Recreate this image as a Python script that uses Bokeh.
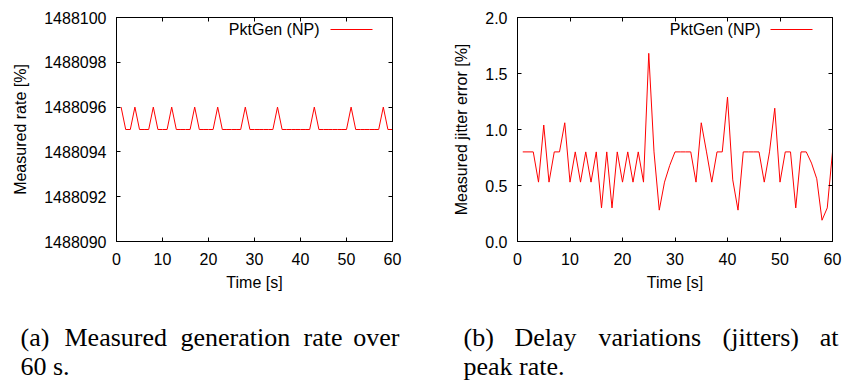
from bokeh.plotting import figure
from bokeh.models import (LinearAxis, Range1d, FixedTicker, PrintfTickFormatter,
                          Label, Arrow, ColumnDataSource)
from bokeh.layouts import row, column
from bokeh.embed import file_html
from bokeh.resources import INLINE

# ---------------- data ----------------
time_s = list(range(1, 61))
rate_values = [
    1488096, 1488095, 1488095, 1488096, 1488095, 1488095, 1488095, 1488096, 1488095, 1488095,
    1488095, 1488096, 1488095, 1488095, 1488095, 1488095, 1488096, 1488095, 1488095, 1488095,
    1488095, 1488096, 1488095, 1488095, 1488095, 1488095, 1488095, 1488096, 1488095, 1488095,
    1488095, 1488095, 1488095, 1488095, 1488096, 1488095, 1488095, 1488095, 1488095, 1488095,
    1488095, 1488095, 1488096, 1488095, 1488095, 1488095, 1488095, 1488095, 1488095, 1488095,
    1488096, 1488095, 1488095, 1488095, 1488095, 1488095, 1488095, 1488096, 1488095, 1488095,
]
jitter_values = [
    0.80, 0.80, 0.80, 0.53, 1.04, 0.53, 0.80, 0.80, 1.06, 0.53,
    0.80, 0.53, 0.80, 0.53, 0.80, 0.30, 0.80, 0.30, 0.80, 0.53,
    0.80, 0.53, 0.80, 0.53, 1.68, 0.80, 0.28, 0.53, 0.68, 0.80,
    0.80, 0.80, 0.80, 0.53, 1.06, 0.80, 0.53, 0.80, 0.80, 1.29,
    0.55, 0.28, 0.80, 0.80, 0.80, 0.80, 0.53, 0.80, 1.19, 0.53,
    0.80, 0.80, 0.30, 0.80, 0.80, 0.70, 0.56, 0.19, 0.30, 0.80,
]
x_ticks = [0, 10, 20, 30, 40, 50, 60]
rate_ticks = [1488090, 1488092, 1488094, 1488096, 1488098, 1488100]
jitter_ticks = [0.0, 0.5, 1.0, 1.5, 2.0]
series_name = "PktGen (NP)"
x_label = "Time [s]"
rate_label = "Measured rate [%]"
jitter_label = "Measured jitter error [%]"
caption_a_line1 = ["(a)", "Measured", "generation", "rate", "over"]
caption_a_line2 = "60 s."
caption_b_line1 = ["(b)", "Delay", "variations", "(jitters)", "at"]
caption_b_line2 = "peak rate."

# ---------------- styling / layout ----------------
SANS = "Liberation Sans"
SERIF = "Liberation Serif"
FS = "16px"
CAP_FS = "26px"
RED = "#ff0000"
PLOT_H = 300


def make_panel(width, border_left, border_right, y_range, y_ticks, y_fmt, y_label, values):
    p = figure(width=width, height=PLOT_H, x_range=Range1d(0, 60), y_range=y_range,
               output_backend="svg", toolbar_location=None,
               min_border_left=border_left, min_border_right=border_right,
               min_border_top=17, min_border_bottom=PLOT_H - 241,
               background_fill_color="white", border_fill_color="white")
    p.grid.visible = False
    p.outline_line_color = "black"
    p.outline_line_width = 1

    src = ColumnDataSource(dict(t=time_s, v=values))
    p.line("t", "v", source=src, line_color=RED, line_width=1)

    for ax in (p.xaxis[0], p.yaxis[0]):
        ax.major_tick_in = 4
        ax.major_tick_out = 0
        ax.minor_tick_line_color = None
        ax.axis_line_color = "black"
        ax.major_tick_line_color = "black"
        ax.major_label_text_font = SANS
        ax.major_label_text_font_size = FS
        ax.major_label_text_color = "black"
        ax.axis_label_text_font = SANS
        ax.axis_label_text_font_size = FS
        ax.axis_label_text_font_style = "normal"
        ax.axis_label_text_color = "black"

    p.xaxis[0].ticker = FixedTicker(ticks=x_ticks)
    p.xaxis[0].axis_label = x_label
    p.xaxis[0].major_label_standoff = 11
    p.xaxis[0].axis_label_standoff = 6

    p.yaxis[0].ticker = FixedTicker(ticks=y_ticks)
    p.yaxis[0].formatter = PrintfTickFormatter(format=y_fmt)
    p.yaxis[0].axis_label = y_label
    p.yaxis[0].major_label_standoff = 10
    p.yaxis[0].axis_label_standoff = 12

    # mirrored ticks (gnuplot style), no labels
    top = LinearAxis(ticker=FixedTicker(ticks=x_ticks), major_tick_in=4, major_tick_out=0,
                     minor_tick_line_color=None, major_label_text_color=None,
                     major_label_text_font_size="1px",
                     major_label_standoff=0, axis_line_color="black")
    right = LinearAxis(ticker=FixedTicker(ticks=y_ticks), major_tick_in=4, major_tick_out=0,
                       minor_tick_line_color=None, major_label_text_color=None,
                       major_label_text_font_size="1px",
                       major_label_standoff=0, axis_line_color="black")
    p.add_layout(top, "above")
    p.add_layout(right, "right")
    return p


# panel (a): canvas x 0..436, frame 116..392 ; panel (b): canvas x 436..845, frame 517..832
p1 = make_panel(436, 116, 44, Range1d(1488090, 1488100), rate_ticks, "%d", rate_label, rate_values)
p2 = make_panel(409, 81, 13, Range1d(0, 2), jitter_ticks, "%.1f", jitter_label, jitter_values)


def add_legend(p, text_right, line_start, line_end, y):
    p.add_layout(Label(x=text_right, y=y, x_units="screen", y_units="screen", text=series_name,
                       text_align="right", text_baseline="middle", text_font=SANS,
                       text_font_size=FS, text_color="black"))
    p.add_layout(Arrow(end=None, x_start=line_start, y_start=y, x_end=line_end, y_end=y,
                       start_units="screen", end_units="screen", line_color=RED, line_width=1))


add_legend(p1, 203, 214, 256, 212)
add_legend(p2, 243, 253, 295, 212)

# ---------------- captions (separate canvas, page coordinates) ----------------
CAP_TOP = PLOT_H
cap = figure(width=845, height=381 - PLOT_H, x_range=Range1d(0, 845),
             y_range=Range1d(381, CAP_TOP), output_backend="svg", toolbar_location=None,
             min_border=0, outline_line_color=None, background_fill_color="white",
             border_fill_color="white")
cap.axis.visible = False
cap.grid.visible = False


def add_caption(words, word_x, line2, line2_x, y1, y2):
    n = len(words)
    for i, (w, x) in enumerate(zip(words, word_x)):
        cap.add_layout(Label(x=x, y=y1, text=w,
                             text_align="right" if i == n - 1 else "left",
                             text_baseline="alphabetic", text_font=SERIF,
                             text_font_size=CAP_FS, text_color="black"))
    cap.add_layout(Label(x=line2_x, y=y2, text=line2, text_align="left",
                         text_baseline="alphabetic", text_font=SERIF,
                         text_font_size=CAP_FS, text_color="black"))


add_caption(caption_a_line1, [20, 64, 180, 303, 399], caption_a_line2, 20, 337, 366)
add_caption(caption_b_line1, [463, 514, 598, 722, 838], caption_b_line2, 463, 337, 366)

layout = column(row(p1, p2), cap, spacing=0)
open("out.html", "w").write(file_html(layout, INLINE))
